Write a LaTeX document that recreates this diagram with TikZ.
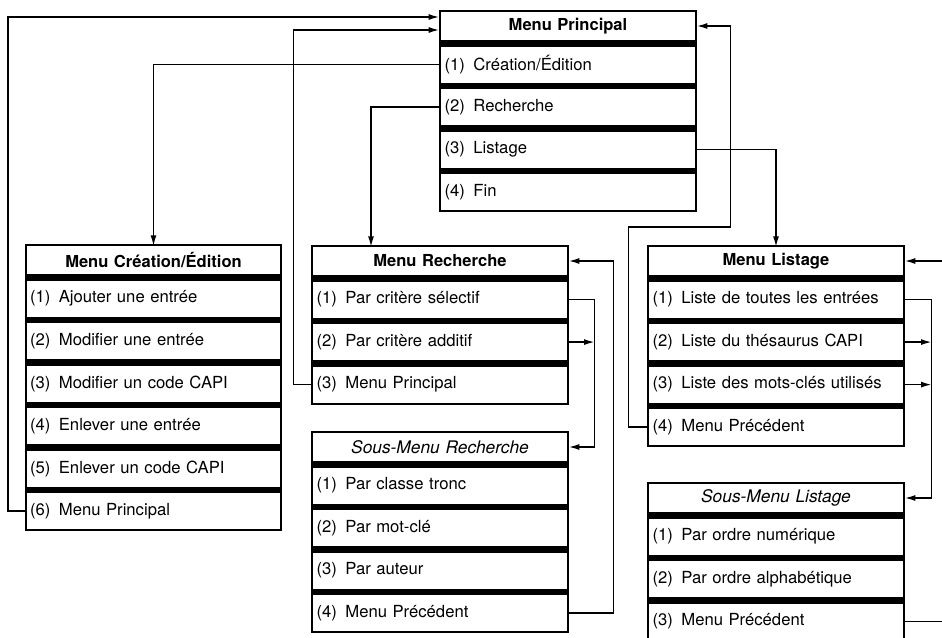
\documentclass[tikz,border=0pt]{standalone}
\usepackage{fontspec}
\setmainfont{TeX Gyre Heros}
\usetikzlibrary{positioning,arrows.meta,backgrounds}

\begin{document}
\begin{tikzpicture}[
		x=0.75pt,y=0.75pt,
		node distance=4.9pt,
		item/.style={fill=white,text width=185pt,inner xsep=2.5pt,inner ysep=0pt,
			minimum height=27pt,outer xsep=1.5pt,outer ysep=0pt,align=left,
			font=\fontsize{12.5}{14}\selectfont},
		head/.style={item,minimum height=21pt,align=center,
			font=\fontsize{12.4}{14}\selectfont\bfseries},
		subhead/.style={head,font=\fontsize{13}{14}\selectfont\itshape},
		link/.style={line width=1.2pt},
		arr/.style={link,-{Latex[length=8pt,width=4.5pt]}},
	]
	\useasboundingbox (0,0) rectangle (942,637);

	% Menu Principal
	\node[head] (mp) at (568,611) {Menu Principal};
	\node[item,below=of mp] (mp1) {(1)\enspace Création/Édition};
	\node[item,below=of mp1] (mp2) {(2)\enspace Recherche};
	\node[item,below=of mp2] (mp3) {(3)\enspace Listage};
	\node[item,below=of mp3] (mp4) {(4)\enspace Fin};

	% Menu Creation/Edition
	\node[head] (cre) at (153.5,377) {Menu Création/Édition};
	\node[item,below=of cre] (cre1) {(1)\enspace Ajouter une entrée};
	\node[item,below=of cre1] (cre2) {(2)\enspace Modifier une entrée};
	\node[item,below=of cre2] (cre3) {(3)\enspace Modifier un code CAPI};
	\node[item,below=of cre3] (cre4) {(4)\enspace Enlever une entrée};
	\node[item,below=of cre4] (cre5) {(5)\enspace Enlever un code CAPI};
	\node[item,below=of cre5] (cre6) {(6)\enspace Menu Principal};

	% Menu Recherche + sous-menu
	\node[head] (rech) at (440,376) {Menu Recherche};
	\node[item,below=of rech] (rech1) {(1)\enspace Par critère sélectif};
	\node[item,below=of rech1] (rech2) {(2)\enspace Par critère additif};
	\node[item,below=of rech2] (rech3) {(3)\enspace Menu Principal};

	\node[subhead] (smr) at (440,190) {Sous-Menu Recherche};
	\node[item,below=of smr] (smr1) {(1)\enspace Par classe tronc};
	\node[item,below=of smr1] (smr2) {(2)\enspace Par mot-clé};
	\node[item,below=of smr2] (smr3) {(3)\enspace Par auteur};
	\node[item,below=of smr3] (smr4) {(4)\enspace Menu Précédent};

	% Menu Listage + sous-menu
	\node[head] (lst) at (776,376) {Menu Listage};
	\node[item,below=of lst] (lst1) {(1)\enspace Liste de toutes les entrées};
	\node[item,below=of lst1] (lst2) {(2)\enspace Liste du thésaurus CAPI};
	\node[item,below=of lst2] (lst3) {(3)\enspace Liste des mots-clés utilisés};
	\node[item,below=of lst3] (lst4) {(4)\enspace Menu Précédent};

	\node[subhead] (sml) at (776,139) {Sous-Menu Listage};
	\node[item,below=of sml] (sml1) {(1)\enspace Par ordre numérique};
	\node[item,below=of sml1] (sml2) {(2)\enspace Par ordre alphabétique};
	\node[item,below=of sml2] (sml3) {(3)\enspace Menu Précédent};

	% black frames and separator bars
	\begin{scope}[on background layer]
		\foreach \hd/\lt in {mp/mp4,cre/cre6,rech/rech3,smr/smr4,lst/lst4,sml/sml3}
			\fill ([yshift=1.5pt]\hd.north west) rectangle ([yshift=-1.5pt]\lt.south east);
	\end{scope}

	% links
	\draw[arr] (cre6.west) -- ++(-17,0) |- ([yshift=6.75pt]mp.west);
	\draw[arr] (rech3.west) -- ++(-18,0) |- ([yshift=-3pt]mp.west);
	\draw[arr] (mp1.west) -| (cre.north);
	\draw[arr] (mp2.west) -| ([xshift=-51.75pt]rech.north);
	\draw[arr] (mp3.east) -| (lst.north);
	\draw[arr] (lst4.west) -- ++(-19,0) -- ++(0,200) -- ++(102,0) |- (mp.east);

	\draw[arr] (smr4.east) -- ++(45,0) |- (rech.east);
	\draw[arr] (rech1.east) -- ++(26,0) coordinate (rjoin) |- (smr.east);
	\draw[arr] (rech2.east) -- (rech2.east -| rjoin);

	\draw[arr] (lst1.east) -- ++(27,0) coordinate (ljoin) |- (sml.east);
	\draw[arr] (lst2.east) -- (lst2.east -| ljoin);
	\draw[arr] (lst3.east) -- (lst3.east -| ljoin);
	\draw[arr] (sml3.east) -- ++(60,0) |- (lst.east);
\end{tikzpicture}
\end{document}
